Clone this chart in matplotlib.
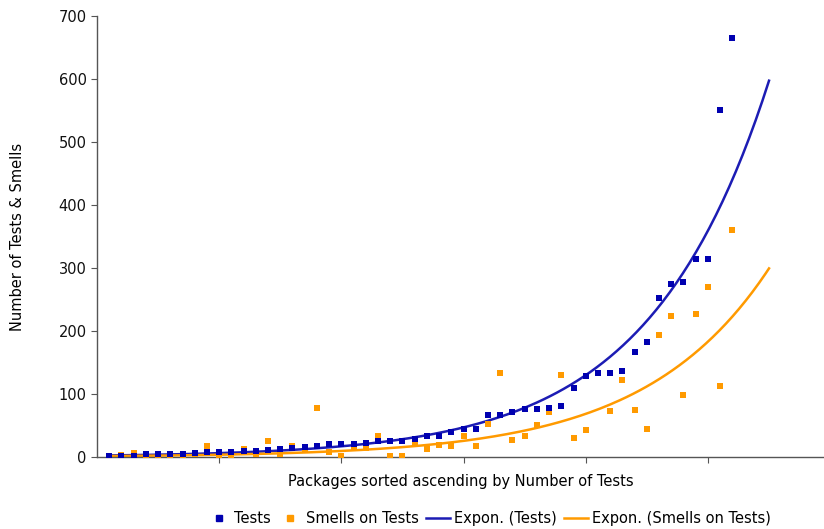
import numpy as np
import matplotlib
matplotlib.use("Agg")
import matplotlib.pyplot as plt
from matplotlib.lines import Line2D

# -- data (packages sorted ascending by number of tests) ----------------------
package_idx = np.arange(1, 53)
tests = [1, 1, 2, 4, 4, 5, 5, 6, 8, 8,
         8, 9, 10, 11, 13, 15, 16, 18, 20, 20,
         21, 23, 25, 25, 26, 28, 33, 33, 39, 44,
         44, 66, 66, 71, 76, 76, 77, 81, 110, 128,
         133, 134, 136, 167, 182, 252, 275, 277, 314, 314,
         551, 665]
smells = [1, 3, 6, 1, 1, 1, 1, 4, 17, 2,
          1, 12, 5, 25, 5, 17, 13, 78, 8, 1,
          14, 15, 33, 1, 2, 20, 13, 19, 17, 34,
          18, 53, 133, 27, 33, 51, 71, 130, 30, 43,
          133, 73, 123, 75, 45, 194, 224, 98, 227, 270,
          113, 361]
FORWARD = 3  # trendline forecast periods

BLUE = "#0000B0"
BLUE_LINE = "#1c1cB4"
ORANGE = "#FF9A00"

fig = plt.figure(figsize=(8.24, 5.29), dpi=100)
ax = fig.add_axes([0.1177, 0.1361, 0.8823, 0.8337])

# exponential trendlines (least squares on log values, like Excel)
x_fit = np.linspace(package_idx[0], package_idx[-1] + FORWARD, 200)
for vals, col in [(tests, BLUE_LINE), (smells, ORANGE)]:
    b, ln_a = np.polyfit(package_idx, np.log(vals), 1)
    ax.plot(x_fit, np.exp(ln_a + b * x_fit), color=col, linewidth=1.8, zorder=2)

ax.scatter(package_idx, smells, marker="s", s=16, color=ORANGE, linewidths=0, zorder=3)
ax.scatter(package_idx, tests, marker="s", s=16, color=BLUE, linewidths=0, zorder=4)

ax.set_xlim(0, 59.5)
ax.set_ylim(0, 700)
ax.set_yticks(range(0, 701, 100))
ax.set_xticks([10, 20, 30, 40, 50])
ax.set_xticklabels([])
for side in ["top", "right"]:
    ax.spines[side].set_visible(False)
for side in ["left", "bottom"]:
    ax.spines[side].set_color("#555555")
    ax.spines[side].set_linewidth(1.0)
ax.tick_params(axis="both", direction="out", length=4, color="#555555",
               labelsize=10.5, labelcolor="#111111")

ax.set_ylabel("Number of Tests & Smells", fontsize=10.5, labelpad=24)
ax.set_xlabel("Packages sorted ascending by Number of Tests", fontsize=10.5, labelpad=5)

handles = [
    Line2D([], [], marker="s", markersize=4, color=BLUE, linestyle="none"),
    Line2D([], [], marker="s", markersize=4, color=ORANGE, linestyle="none"),
    Line2D([], [], color=BLUE_LINE, linewidth=1.8),
    Line2D([], [], color=ORANGE, linewidth=1.8),
]
labels = ["Tests", "Smells on Tests", "Expon. (Tests)", "Expon. (Smells on Tests)"]
fig.legend(handles, labels, loc="center", bbox_to_anchor=(0.593, 0.02), ncol=4,
           frameon=False, fontsize=10.5, handlelength=1.65, handletextpad=0.25,
           columnspacing=0.5)

fig.savefig("out.png", dpi=100)
